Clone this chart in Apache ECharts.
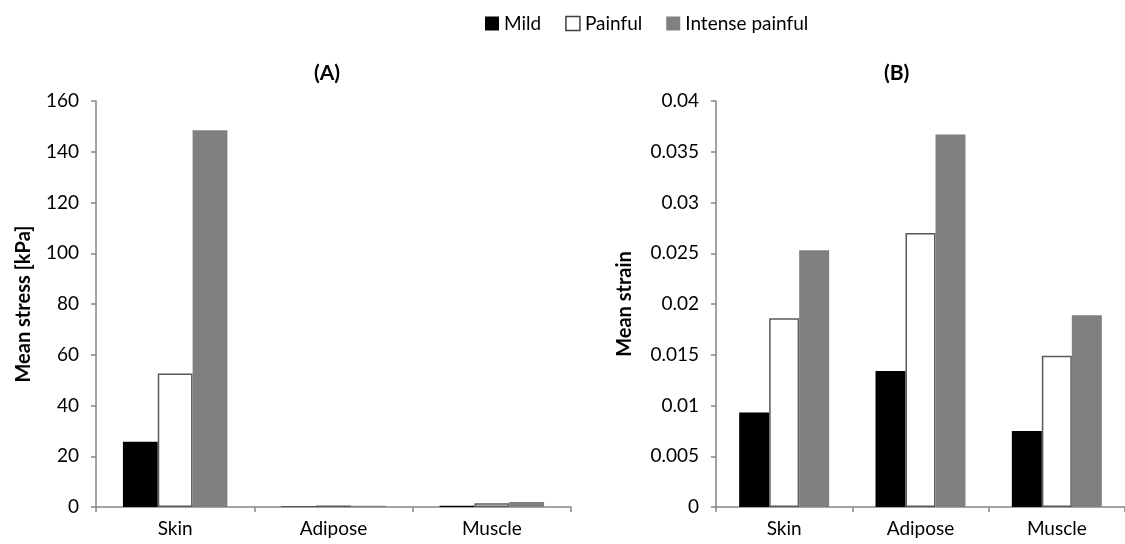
<!DOCTYPE html>
<html>
<head>
<meta charset="utf-8">
<script src="https://cdn.jsdelivr.net/npm/echarts@6/dist/echarts.min.js"></script>
<style>
html,body{margin:0;padding:0;background:#fff;}
#c{width:1125px;height:544px;}
</style>
</head>
<body>
<div id="c"></div>
<script>
const categories = ['Skin', 'Adipose', 'Muscle'];
const seriesNames = ['Mild', 'Painful', 'Intense painful'];
// Panel A: Mean stress [kPa]
const stressMild = [25.7, 0.2, 0.5];
const stressPainful = [52.6, 0.6, 1.5];
const stressIntense = [148.5, 0.5, 2.0];
// Panel B: Mean strain
const strainMild = [0.0093, 0.0134, 0.0075];
const strainPainful = [0.0186, 0.0270, 0.0149];
const strainIntense = [0.0253, 0.0367, 0.0189];

const FONT = 'Lato';
const axisColor = '#868686';
const styles = [
  { color: '#000000', borderColor: '#000000', borderWidth: 0 },
  { color: '#ffffff', borderColor: '#595959', borderWidth: 1.5 },
  { color: '#808080', borderColor: '#808080', borderWidth: 0 }
];

const chart = echarts.init(document.getElementById('c'), null, { renderer: 'canvas' });

function xAxis(gridIndex) {
  return {
    type: 'category', gridIndex, data: categories,
    axisLine: { lineStyle: { color: axisColor, width: 1.5 } },
    axisTick: { show: true, length: 5, lineStyle: { color: axisColor, width: 1.5 } },
    axisLabel: { color: '#000', fontFamily: FONT, fontSize: 19, margin: 12 }
  };
}
function yAxis(gridIndex, max, interval, name, nameGap) {
  return {
    type: 'value', gridIndex, min: 0, max, interval,
    name, nameLocation: 'middle', nameGap,
    nameTextStyle: { color: '#000', fontFamily: FONT, fontSize: 20, fontWeight: 'bold' },
    axisLine: { show: true, lineStyle: { color: axisColor, width: 1.5 } },
    axisTick: { show: true, length: 5, lineStyle: { color: axisColor, width: 1.5 } },
    splitLine: { show: false },
    axisLabel: { color: '#000', fontFamily: FONT, fontSize: 19, margin: 17 }
  };
}
function bars(data, idx, axisIndex) {
  return {
    type: 'bar', name: seriesNames[idx], data,
    xAxisIndex: axisIndex, yAxisIndex: axisIndex,
    barGap: '0%', barCategoryGap: '34%',
    itemStyle: styles[idx],
    animation: false
  };
}

chart.setOption({
  animation: false,
  backgroundColor: '#fff',
  title: [
    { text: '(A)', left: 309, top: 58, textStyle: { fontFamily: FONT, fontSize: 21, fontWeight: 'bold', color: '#000' } },
    { text: '(B)', left: 879, top: 58, textStyle: { fontFamily: FONT, fontSize: 21, fontWeight: 'bold', color: '#000' } }
  ],
  legend: {
    data: seriesNames.map((n, i) => ({ name: n, icon: 'rect', itemStyle: styles[i].borderWidth ? { color: '#fff', borderColor: '#404040', borderWidth: 1.5 } : { color: styles[i].color } })),
    left: 480, top: 9, itemWidth: 14, itemHeight: 14, itemGap: 24,
    textStyle: { fontFamily: FONT, fontSize: 19, color: '#000' }
  },
  grid: [
    { left: 96, top: 101, width: 475, height: 406 },
    { left: 716, top: 101, width: 415, height: 406 }
  ],
  xAxis: [xAxis(0), xAxis(1)],
  yAxis: [
    yAxis(0, 160, 20, 'Mean stress [kPa]', 62),
    yAxis(1, 0.04, 0.005, 'Mean strain', 81)
  ],
  series: [
    bars(stressMild, 0, 0), bars(stressPainful, 1, 0), bars(stressIntense, 2, 0),
    bars(strainMild, 0, 1), bars(strainPainful, 1, 1), bars(strainIntense, 2, 1)
  ]
});
</script>
</body>
</html>
